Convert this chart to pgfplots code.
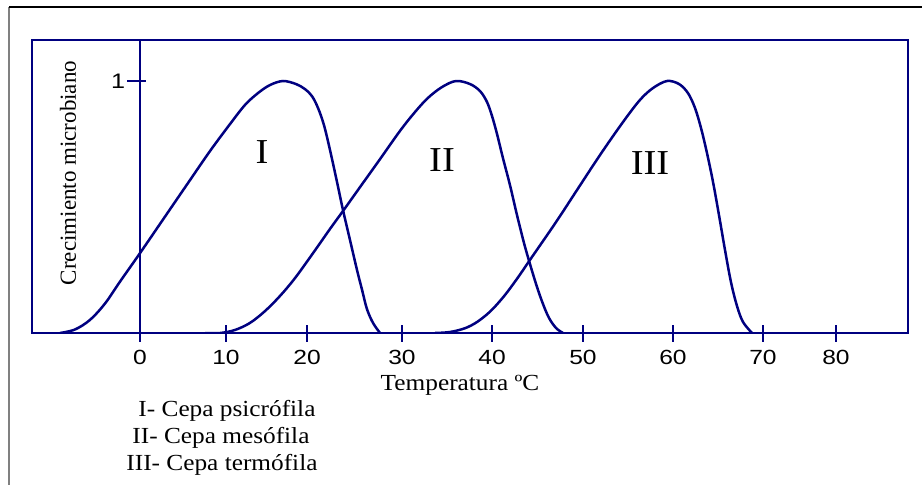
\documentclass[border=0pt]{standalone}
\usepackage{pgfplots}
\pgfplotsset{compat=1.18}
\usepackage{fontspec}
\setmainfont{Liberation Serif}
\newfontfamily\serifw[FakeStretch=1.1]{Liberation Serif}
\newfontfamily\arialf[FakeStretch=1.2]{Liberation Sans}
\definecolor{navy}{RGB}{0,0,128}
\begin{document}
\begin{tikzpicture}
\path[use as bounding box] (0,0) rectangle (922pt,-485pt);
\draw[black!50, line width=2pt] (9pt,-7pt) -- (9pt,-485pt);
\draw[black, line width=1.3pt] (9pt,-7pt) -- (922pt,-7pt);
\begin{axis}[
  at={(32pt,-40pt)}, anchor=north west,
  scale only axis, width=876pt, height=293pt,
  xmin=-12.16, xmax=86.46, ymin=0, ymax=1.1627,
  axis line style={navy, line width=2.2pt},
  ytick=\empty,
  xtick={0,9.68,18.80,29.49,39.63,49.87,60.0,70.13,78.35},
  xticklabels={0,10,20,30,40,50,60,{\raisebox{-5pt}{70}},80},
  tick align=center, major tick length=17pt,
  tick style={navy, line width=2pt},
  xtick pos=bottom,
  xticklabel style={font=\arialf\fontsize{20.5}{20.5}\selectfont, yshift=-5pt},
]
\draw[navy, line width=2.2pt] (axis cs:0,0) -- (axis cs:0,1.1627);
\addplot[navy, line width=2.5pt, smooth, tension=0.55] coordinates {
(-9.01,0) (-7.32,0.014) (-5.63,0.052) (-3.94,0.117) (-2.25,0.204) (0,0.317) (2.70,0.456) (5.40,0.595) (7.88,0.722) (10.13,0.829) (11.82,0.905) (13.28,0.952) (14.63,0.984) (16.10,1.0) (17.56,0.988) (18.57,0.968) (19.36,0.940) (20.04,0.893) (20.71,0.825) (21.39,0.726) (22.18,0.599) (22.85,0.488) (23.64,0.369) (24.43,0.250) (25.00,0.171) (25.55,0.095) (26.23,0.040) (27.02,0)
};
\addplot[navy, line width=2.5pt, smooth, tension=0.55] coordinates {
(7.32,0) (9.01,0) (10.69,0.012) (12.38,0.040) (14.07,0.087) (15.76,0.147) (17.45,0.218) (19.48,0.317) (21.39,0.413) (22.85,0.484) (24.77,0.579) (27.02,0.690) (29.27,0.802) (30.96,0.877) (32.42,0.933) (34.00,0.976) (35.57,1.0) (37.15,0.988) (38.28,0.960) (39.06,0.917) (39.63,0.861) (40.19,0.790) (40.86,0.694) (41.65,0.587) (42.44,0.468) (43.23,0.357) (43.90,0.274) (44.69,0.183) (45.37,0.115) (46.04,0.060) (46.83,0.020) (47.62,0)
};
\addplot[navy, line width=2.5pt, smooth, tension=0.55] coordinates {
(33.21,0) (34.90,0.004) (36.59,0.019) (38.0,0.045) (39.5,0.088) (41.0,0.147) (42.5,0.218) (43.90,0.290) (46.83,0.440) (49.19,0.567) (51.78,0.706) (54.37,0.837) (56.29,0.925) (57.75,0.972) (59.33,1.0) (60.68,0.988) (61.69,0.952) (62.48,0.893) (63.16,0.813) (63.83,0.714) (64.51,0.599) (65.18,0.468) (65.86,0.329) (66.53,0.202) (67.21,0.107) (67.88,0.044) (68.90,0)
};
\draw[navy, line width=2.2pt] ([xshift=-13pt]axis cs:0,1) -- ([xshift=6pt]axis cs:0,1);
\node[font=\arialf\fontsize{21}{21}\selectfont] at (axis cs:0,1) [xshift=-22pt] {1};
\end{axis}
\node[font=\serifw\fontsize{35}{35}\selectfont] at (262pt,-152pt) {I};
\node[font=\serifw\fontsize{35}{35}\selectfont] at (442pt,-160pt) {II};
\node[font=\serifw\fontsize{35}{35}\selectfont] at (650pt,-163pt) {III};
\node[rotate=90, font=\fontsize{23}{23}\selectfont] at (68pt,-173pt) {Crecimiento microbiano};
\node[font=\serifw\fontsize{23}{23}\selectfont] at (460pt,-385pt) {Temperatura ºC};
\node[font=\serifw\fontsize{23}{23}\selectfont] at (227pt,-411pt) {I- Cepa psicrófila};
\node[font=\serifw\fontsize{23}{23}\selectfont] at (221pt,-438pt) {II- Cepa mesófila};
\node[font=\serifw\fontsize{23}{23}\selectfont] at (222pt,-465pt) {III- Cepa termófila};
\end{tikzpicture}
\end{document}
